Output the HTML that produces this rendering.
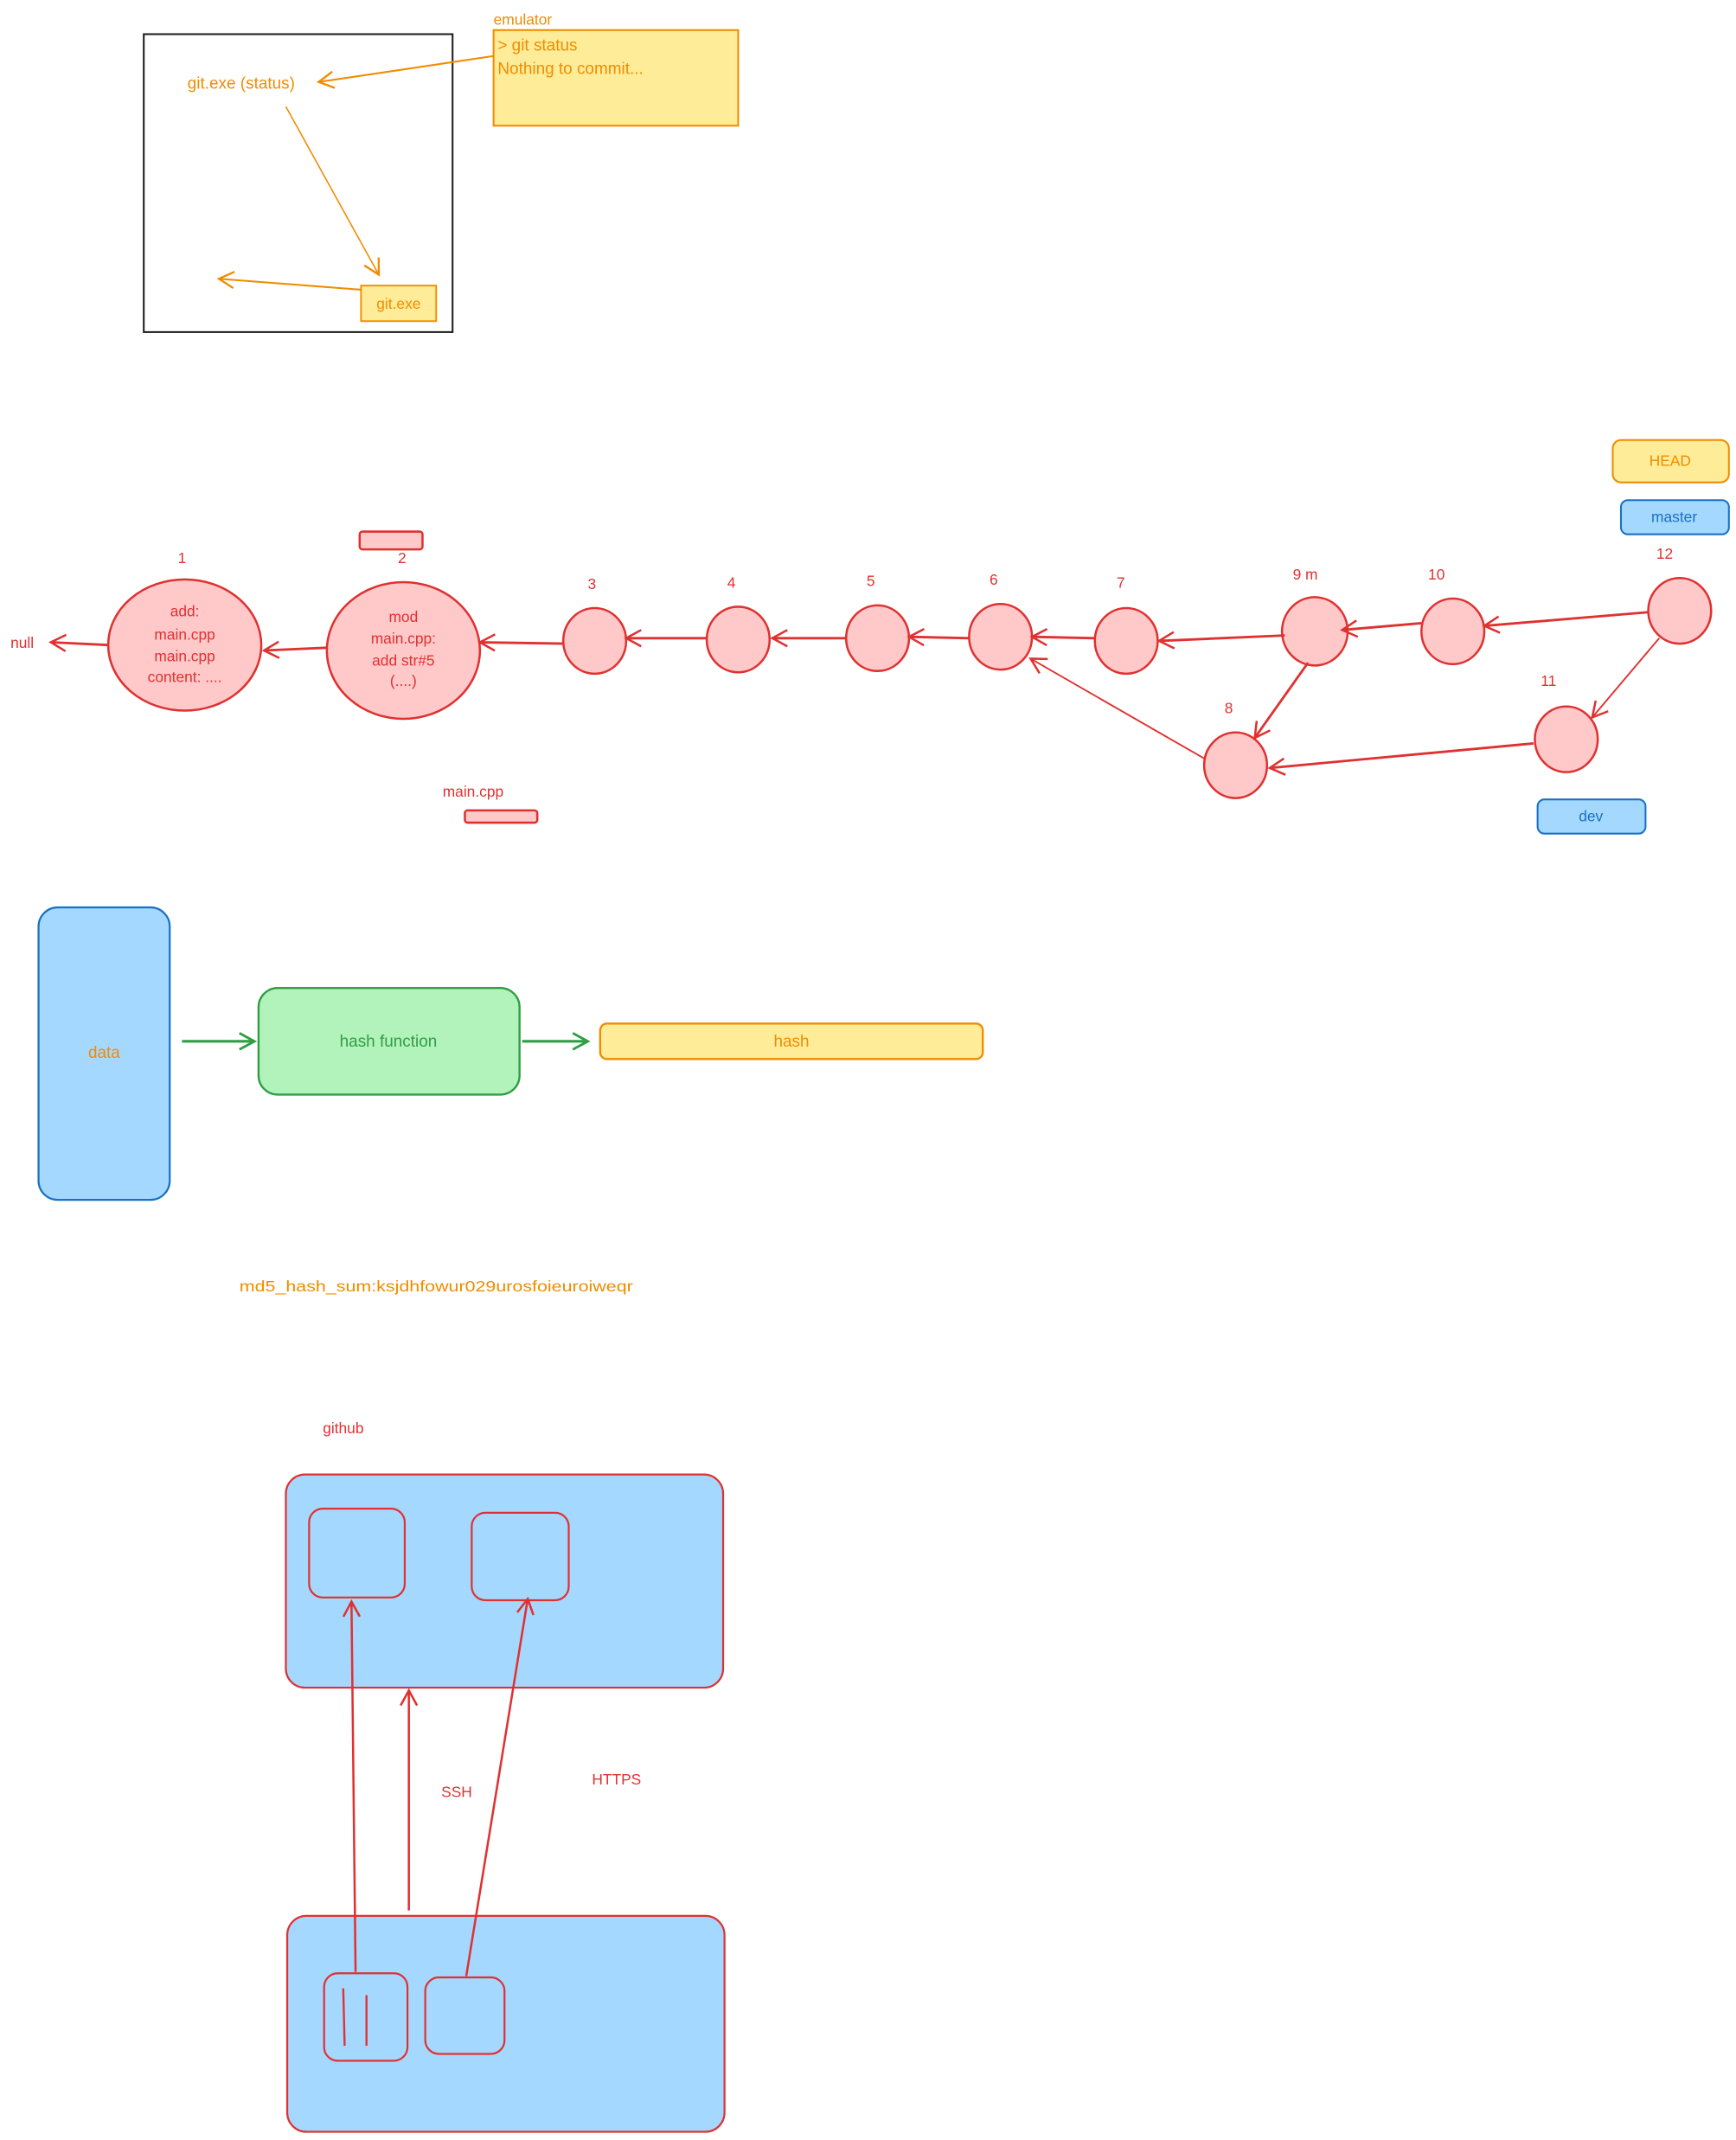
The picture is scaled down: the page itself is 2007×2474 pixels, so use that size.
<!DOCTYPE html>
<html><head><meta charset="utf-8"><style>
html,body{margin:0;padding:0;background:#fff;width:2007px;height:2474px;overflow:hidden}
svg{display:block}
text{font-family:"Liberation Sans",sans-serif}
</style></head><body>
<svg width="2007" height="2474" viewBox="0 0 1270 1566" xmlns="http://www.w3.org/2000/svg">
<defs>
<marker id="ao" markerWidth="14" markerHeight="14" refX="12" refY="7" orient="auto" markerUnits="userSpaceOnUse"><path d="M1,1 L12,7 L1,13" fill="none" stroke="#f08c00" stroke-width="1.5"/></marker>
<marker id="ar" markerWidth="14" markerHeight="14" refX="12" refY="7" orient="auto" markerUnits="userSpaceOnUse"><path d="M1,1 L12,7 L1,13" fill="none" stroke="#e03131" stroke-width="1.6"/></marker>
<marker id="ag" markerWidth="14" markerHeight="14" refX="12" refY="7" orient="auto" markerUnits="userSpaceOnUse"><path d="M1,1 L12,7 L1,13" fill="none" stroke="#2f9e44" stroke-width="1.8"/></marker>
</defs>

<rect x="105" y="25" width="226" height="218" fill="none" stroke="#1e1e1e" stroke-width="1.3"/>
<text x="361" y="18" font-size="11" fill="#f08c00">emulator</text>
<rect x="361" y="22" width="179" height="70" fill="#ffec99" stroke="#f08c00" stroke-width="1.3"/>
<text x="364" y="37" font-size="12" fill="#f08c00">&gt; git status</text>
<text x="364" y="54" font-size="12" fill="#f08c00">Nothing to commit...</text>
<text x="137" y="65" font-size="12" fill="#f08c00">git.exe (status)</text>
<line x1="361" y1="41" x2="233" y2="60" stroke="#f08c00" stroke-width="1.3" marker-end="url(#ao)"/>
<line x1="209" y1="78" x2="277" y2="201" stroke="#f08c00" stroke-width="1" marker-end="url(#ao)"/>
<rect x="264" y="209" width="55" height="26" fill="#ffec99" stroke="#f08c00" stroke-width="1.2"/>
<text x="291.5" y="226" font-size="11" fill="#f08c00" text-anchor="middle">git.exe</text>
<line x1="264" y1="212" x2="160" y2="204" stroke="#f08c00" stroke-width="1.3" marker-end="url(#ao)"/>

<rect x="1180" y="322" width="85" height="31" rx="6" fill="#ffec99" stroke="#f08c00" stroke-width="1.3"/>
<text x="1222" y="341" font-size="11" fill="#f08c00" text-anchor="middle">HEAD</text>
<rect x="1186" y="366" width="79" height="25" rx="5" fill="#a5d8ff" stroke="#1971c2" stroke-width="1.3"/>
<text x="1225" y="382" font-size="11" fill="#1971c2" text-anchor="middle">master</text>
<rect x="1125" y="585" width="79" height="25" rx="5" fill="#a5d8ff" stroke="#1971c2" stroke-width="1.3"/>
<text x="1164" y="601" font-size="11" fill="#1971c2" text-anchor="middle">dev</text>

<g fill="#ffc9c9" stroke="#e03131" stroke-width="1.6">
<ellipse cx="135" cy="472" rx="56" ry="48"/>
<ellipse cx="295" cy="476" rx="56" ry="50"/>
<ellipse cx="435" cy="469" rx="23" ry="24"/>
<ellipse cx="540" cy="468" rx="23" ry="24"/>
<ellipse cx="642" cy="467" rx="23" ry="24"/>
<ellipse cx="732" cy="466" rx="23" ry="24"/>
<ellipse cx="824" cy="469" rx="23" ry="24"/>
<ellipse cx="962" cy="462" rx="24" ry="25"/>
<ellipse cx="1063" cy="462" rx="23" ry="24"/>
<ellipse cx="1229" cy="447" rx="23" ry="24"/>
<ellipse cx="1146" cy="541" rx="23" ry="24"/>
<ellipse cx="904" cy="560" rx="23" ry="24"/>
<rect x="263" y="389" width="46" height="13" rx="2"/>
<rect x="340" y="593" width="53" height="9" rx="2"/>
</g>
<g font-size="11" fill="#e03131" text-anchor="middle">
<text x="133" y="412">1</text><text x="294" y="412">2</text><text x="433" y="431">3</text>
<text x="535" y="430">4</text><text x="637" y="429">5</text><text x="727" y="428">6</text>
<text x="820" y="430">7</text><text x="955" y="424">9 m</text><text x="1051" y="424">10</text>
<text x="1218" y="409">12</text><text x="1133" y="502">11</text><text x="899" y="522">8</text>
<text x="135" y="451">add:</text><text x="135" y="468">main.cpp</text><text x="135" y="484">main.cpp</text><text x="135" y="499">content: ....</text>
<text x="295" y="455">mod</text><text x="295" y="471">main.cpp:</text><text x="295" y="487">add str#5</text><text x="295" y="502">(....)</text>
<text x="346" y="583">main.cpp</text>
<text x="16" y="474">null</text>
<text x="251" y="1049">github</text>
<text x="334" y="1315">SSH</text>
<text x="451" y="1306">HTTPS</text>
</g>
<g stroke="#e03131" stroke-width="1.8" fill="none">
<line x1="79" y1="472" x2="37" y2="470" marker-end="url(#ar)"/>
<line x1="239" y1="474" x2="193" y2="476" marker-end="url(#ar)"/>
<line x1="412" y1="471" x2="351" y2="470" marker-end="url(#ar)"/>
<line x1="517" y1="467" x2="458" y2="467" marker-end="url(#ar)"/>
<line x1="619" y1="467" x2="565" y2="467" marker-end="url(#ar)"/>
<line x1="709" y1="467" x2="665" y2="466" marker-end="url(#ar)"/>
<line x1="801" y1="467" x2="755" y2="466" marker-end="url(#ar)"/>
<line x1="940" y1="465" x2="848" y2="469" marker-end="url(#ar)"/>
<line x1="1040" y1="456" x2="982" y2="461" marker-end="url(#ar)"/>
<line x1="1206" y1="448" x2="1086" y2="458" marker-end="url(#ar)"/>
<line x1="1122" y1="544" x2="929" y2="562" marker-end="url(#ar)"/>
<line x1="957" y1="485" x2="918" y2="540" marker-end="url(#ar)"/>
</g>
<g stroke="#e03131" stroke-width="1.2" fill="none">
<line x1="1214" y1="467" x2="1165" y2="525" marker-end="url(#ar)"/>
<line x1="881" y1="555" x2="754" y2="482" marker-end="url(#ar)"/>
</g>

<rect x="28" y="664" width="96" height="214" rx="14" fill="#a5d8ff" stroke="#1971c2" stroke-width="1.4"/>
<text x="76" y="774" font-size="12" fill="#f08c00" text-anchor="middle">data</text>
<rect x="189" y="723" width="191" height="78" rx="14" fill="#b2f2bb" stroke="#2f9e44" stroke-width="1.5"/>
<text x="284" y="766" font-size="12" fill="#2f9e44" text-anchor="middle">hash function</text>
<rect x="439" y="749" width="280" height="26" rx="5" fill="#ffec99" stroke="#f08c00" stroke-width="1.5"/>
<text x="579" y="766" font-size="12" fill="#f08c00" text-anchor="middle">hash</text>
<line x1="133" y1="762" x2="186" y2="762" stroke="#2f9e44" stroke-width="2" marker-end="url(#ag)"/>
<line x1="382" y1="762" x2="430" y2="762" stroke="#2f9e44" stroke-width="2" marker-end="url(#ag)"/>
<text x="175" y="945" font-size="11" fill="#f08c00" textLength="288" lengthAdjust="spacingAndGlyphs">md5_hash_sum:ksjdhfowur029urosfoieuroiweqr</text>

<rect x="209" y="1079" width="320" height="156" rx="14" fill="#a5d8ff" stroke="#e03131" stroke-width="1.4"/>
<rect x="226" y="1104" width="70" height="65" rx="10" fill="none" stroke="#e03131" stroke-width="1.4"/>
<rect x="345" y="1107" width="71" height="64" rx="10" fill="none" stroke="#e03131" stroke-width="1.4"/>
<rect x="210" y="1402" width="320" height="158" rx="14" fill="#a5d8ff" stroke="#e03131" stroke-width="1.4"/>
<rect x="237" y="1444" width="61" height="64" rx="10" fill="none" stroke="#e03131" stroke-width="1.4"/>
<rect x="311" y="1447" width="58" height="56" rx="10" fill="none" stroke="#e03131" stroke-width="1.4"/>
<line x1="251" y1="1455" x2="252" y2="1497" stroke="#e03131" stroke-width="1.5"/>
<line x1="268" y1="1460" x2="268" y2="1497" stroke="#e03131" stroke-width="1.5"/>
<g stroke="#e03131" stroke-width="1.6" fill="none">
<line x1="260" y1="1443" x2="257" y2="1172" marker-end="url(#ar)"/>
<line x1="299" y1="1398" x2="299" y2="1237" marker-end="url(#ar)"/>
<line x1="341" y1="1446" x2="386" y2="1170" marker-end="url(#ar)"/>
</g>
</svg>
</body></html>
